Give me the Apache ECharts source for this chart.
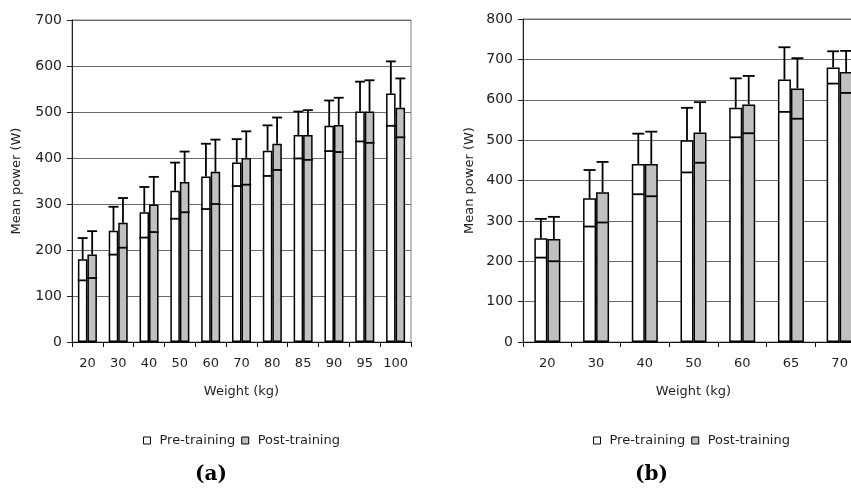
<!DOCTYPE html>
<html>
<head>
<meta charset="utf-8">
<script src="https://cdn.jsdelivr.net/npm/echarts@6/dist/echarts.min.js"></script>
<style>
html,body{margin:0;padding:0;background:#fff;overflow:hidden;}
#chart{width:880px;height:491px;}
</style>
</head>
<body>
<div id="chart"></div>
<script>
// ---- Data (a) ----
const leftCategories = ['20','30','40','50','60','70','80','85','90','95','100'];
const leftPreMean  = [180, 242, 282, 329, 360, 390, 416, 450, 470, 501, 540];
const leftPreSD    = [ 46,  52,  55,  61,  71,  51,  55,  51,  55,  65,  70];
const leftPostMean = [190, 259, 299, 348, 370, 400, 431, 450, 472, 501, 509];
const leftPostSD   = [ 51,  54,  60,  66,  70,  58,  57,  54,  59,  68,  64];
const leftTicks = [0, 700, 100];

// ---- Data (b) ----
const rightCategories = ['20','30','40','50','60','65','70'];
const rightPreMean  = [257, 356, 441, 500, 580, 650, 680];
const rightPreSD    = [ 48,  70,  75,  80,  73,  80,  40];
const rightPostMean = [255, 371, 441, 519, 588, 628, 669];
const rightPostSD   = [ 55,  75,  80,  75,  71,  75,  52];
const rightTicks = [0, 800, 100];

const seriesNames = ['Pre-training', 'Post-training'];
const panelLabels = ['a', 'b'];

const FONT = 'DejaVu Sans';
const TXT = '#1e1e1e';

function errData(means, sds) {
  return means.map((m, i) => [i, m, sds[i]]);
}

function errRender(offset, capHalf) {
  return function (params, api) {
    const i = api.value(0), m = api.value(1), sd = api.value(2);
    const top = api.coord([i, m + sd]);
    const mid = api.coord([i, m]);
    const low = api.coord([i, m - sd]);
    const x = top[0] + offset;
    const st = { stroke: '#000', lineWidth: 1.8 };
    return {
      type: 'group',
      children: [
        { type: 'line', shape: { x1: x, y1: mid[1], x2: x, y2: top[1] }, style: st },
        { type: 'line', shape: { x1: x - capHalf, y1: top[1], x2: x + capHalf, y2: top[1] }, style: st },
        { type: 'line', shape: { x1: x - capHalf, y1: low[1], x2: x + capHalf, y2: low[1] }, style: st }
      ]
    };
  };
}

function xAxisCfg(gridIndex, cats) {
  return {
    type: 'category', gridIndex: gridIndex, data: cats,
    name: 'Weight (kg)', nameLocation: 'middle', nameGap: 43,
    nameTextStyle: { fontFamily: FONT, fontSize: 13, color: TXT },
    axisLine: { lineStyle: { color: '#111', width: 1 } },
    axisTick: { show: true, length: 5, inside: false, interval: 0, lineStyle: { color: '#111' } },
    axisLabel: { fontFamily: FONT, fontSize: 13, color: TXT, margin: 15, interval: 0 },
    splitLine: { show: false }
  };
}

function yAxisCfg(gridIndex, ticks, gap) {
  return {
    type: 'value', gridIndex: gridIndex, min: ticks[0], max: ticks[1], interval: ticks[2],
    name: 'Mean power (W)', nameLocation: 'middle', nameGap: gap, nameRotate: 90,
    nameTextStyle: { fontFamily: FONT, fontSize: 13, color: TXT },
    axisLine: { show: true, lineStyle: { color: '#222', width: 1 } },
    axisTick: { show: true, length: 5, lineStyle: { color: '#222' } },
    axisLabel: { fontFamily: FONT, fontSize: 14, color: TXT, margin: 10 },
    splitLine: { show: true, lineStyle: { color: '#6a6a6a', width: 1 } }
  };
}

function barSeries(name, idx, data, fill, bw) {
  return {
    name: name, type: 'bar', xAxisIndex: idx, yAxisIndex: idx, data: data,
    barWidth: bw, barGap: '0%',
    itemStyle: { color: fill, borderColor: '#000', borderWidth: 1.5 },
    z: 2
  };
}

function errSeries(idx, means, sds, offset, capHalf) {
  return {
    name: 'err', type: 'custom', xAxisIndex: idx, yAxisIndex: idx,
    data: errData(means, sds), encode: { x: 0, y: 1 },
    renderItem: errRender(offset, capHalf), z: 5, silent: true
  };
}

const legendCommon = {
  data: seriesNames, orient: 'horizontal', icon: 'rect', padding: 0,
  itemWidth: 7, itemHeight: 7, itemGap: 6,
  textStyle: { fontFamily: FONT, fontSize: 13, color: TXT, padding: [0, 0, 0, 4] },
  itemStyle: { borderColor: '#000', borderWidth: 1 }
};

const chart = echarts.init(document.getElementById('chart'), null, { renderer: 'canvas' });
chart.setOption({
  backgroundColor: '#fff',
  animation: false,
  title: panelLabels.map((p, k) => ({
    text: '{p|(}{b|' + p + '}{p|)}',
    left: k === 0 ? 195 : 635, top: 465, padding: 0,
    textStyle: {
      rich: {
        p: { fontFamily: 'DejaVu Serif', fontSize: 20, color: '#000' },
        b: { fontFamily: 'DejaVu Serif', fontSize: 20, fontWeight: 'bold', color: '#000' }
      }
    }
  })),
  legend: [
    Object.assign({}, legendCommon, { left: 143, top: 434 }),
    Object.assign({}, legendCommon, { left: 593, top: 434 })
  ],
  grid: [
    { left: 72, top: 20, width: 339, height: 322, show: true, borderColor: '#808080', borderWidth: 1, backgroundColor: 'transparent' },
    { left: 523, top: 19, width: 341, height: 323, show: true, borderColor: '#808080', borderWidth: 1, backgroundColor: 'transparent' }
  ],
  xAxis: [xAxisCfg(0, leftCategories), xAxisCfg(1, rightCategories)],
  yAxis: [yAxisCfg(0, leftTicks, 49), yAxisCfg(1, rightTicks, 47)],
  series: [
    barSeries(seriesNames[0], 0, leftPreMean, '#ffffff', 9.5),
    barSeries(seriesNames[1], 0, leftPostMean, '#c0c0c0', 9.5),
    errSeries(0, leftPreMean, leftPreSD, -4.75, 5),
    errSeries(0, leftPostMean, leftPostSD, 4.75, 5),
    barSeries(seriesNames[0], 1, rightPreMean, '#ffffff', 13),
    barSeries(seriesNames[1], 1, rightPostMean, '#c0c0c0', 13),
    errSeries(1, rightPreMean, rightPreSD, -6.5, 6),
    errSeries(1, rightPostMean, rightPostSD, 6.5, 6)
  ]
});
</script>
</body>
</html>
